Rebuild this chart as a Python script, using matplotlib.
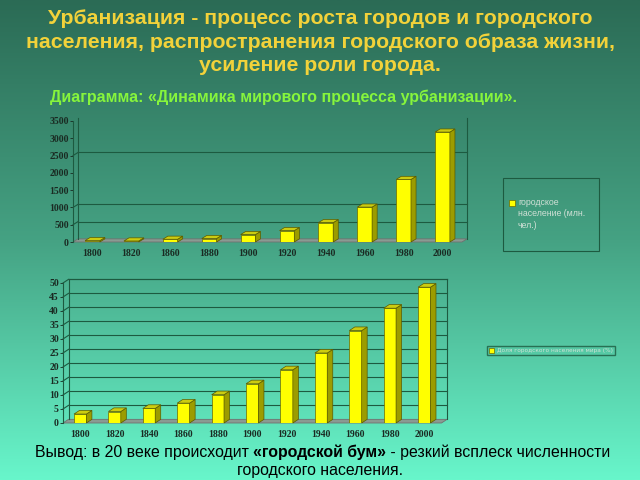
import numpy as np
import matplotlib.pyplot as plt
from matplotlib.patches import Polygon, Rectangle
from matplotlib.colors import LinearSegmentedColormap

# данные
years_top = ['1800', '1820', '1860', '1880', '1900', '1920', '1940', '1960', '1980', '2000']
urban_pop = [40, 30, 80, 100, 215, 330, 560, 1010, 1810, 3180]
top_ticks = [0, 500, 1000, 1500, 2000, 2500, 3000, 3500]
top_grid = [500, 1000, 2500]
top_label = 'городское\nнаселение (млн.\nчел.)'

years_bottom = ['1800', '1820', '1840', '1860', '1880', '1900', '1920', '1940', '1960', '1980', '2000']
urban_share = [3.2, 4.1, 5.2, 7.1, 10.1, 14, 19, 25, 33, 41, 48.5]
bottom_ticks = [0, 5, 10, 15, 20, 25, 30, 35, 40, 45, 50]
bottom_grid = [5, 10, 15, 20, 25, 30, 35, 40, 45, 50]
bottom_label = 'Доля городского населения мира (%)'

title = ('Урбанизация - процесс роста городов и городского\n'
         'населения, распространения городского образа жизни,\n'
         'усиление роли города.')
subtitle = 'Диаграмма: «Динамика мирового процесса урбанизации».'

W, H = 640, 480
fig = plt.figure(figsize=(6.4, 4.8), dpi=100)

# фон - градиент
bg = fig.add_axes([0, 0, 1, 1], zorder=-10)
cmap = LinearSegmentedColormap.from_list('bg', ['#2b6b55', '#45a283', '#68f6cb'])
bg.imshow(np.linspace(0, 1, 256).reshape(-1, 1), aspect='auto', cmap=cmap, extent=[0, 1, 0, 1])
bg.axis('off')

grid_c = '#1d5a40'
leg_c = '#d0e0d6'
tick_font = dict(family='Liberation Serif', weight='bold', size=7, color='#1a2a22')


def chart(rect, cats, vals, ymax, ticks, grid, w, dx, dy, top_line):
    ax = fig.add_axes(rect)
    ax.patch.set_alpha(0)
    n = len(cats)
    x = np.arange(n)
    xr = n - 0.5
    ax.set_xlim(-0.5, xr + dx)
    ax.set_ylim(0, ymax)
    for s in ['top', 'right', 'bottom']:
        ax.spines[s].set_visible(False)
    ax.spines['left'].set_color(grid_c)
    ax.spines['left'].set_linewidth(0.8)
    ax.set_yticks(ticks)
    ax.set_yticklabels([str(t) for t in ticks], fontdict=tick_font)
    ax.tick_params(axis='y', length=2, width=0.6, color='#1a2a22', pad=1)
    ax.set_xticks(x)
    ax.set_xticklabels(cats, fontdict=tick_font)
    ax.tick_params(axis='x', length=0, pad=5)

    # пол и стенки
    ax.add_patch(Polygon([(-0.5, 0), (xr, 0), (xr + dx, dy), (-0.5 + dx, dy)],
                         closed=True, fc='#8a9a92', ec='#707070', lw=0.6, clip_on=False))
    ax.plot([-0.5 + dx, -0.5 + dx], [dy, ymax + dy], color=grid_c, lw=0.8, clip_on=False)
    ax.plot([xr + dx, xr + dx], [dy, ymax + dy], color=grid_c, lw=0.8, clip_on=False)
    for g in grid:
        ax.plot([-0.5, -0.5 + dx], [g, g + dy], color=grid_c, lw=0.8, clip_on=False)
        ax.plot([-0.5 + dx, xr + dx], [g + dy, g + dy], color=grid_c, lw=0.8, clip_on=False)
    if top_line:
        ax.plot([-0.5 + dx, xr + dx], [ymax + dy, ymax + dy], color=grid_c, lw=0.8, clip_on=False)

    # бары
    bars = ax.bar(x, vals, width=w, color='#ffff00', edgecolor='#6a6a00', lw=0.5, zorder=3)
    for xi, v in zip(x, vals):
        l, r = xi - w / 2, xi + w / 2
        ax.add_patch(Polygon([(r, 0), (r + dx, dy), (r + dx, v + dy), (r, v)], closed=True,
                             fc='#9c9c00', ec='#5a5a00', lw=0.5, zorder=3, clip_on=False))
        ax.add_patch(Polygon([(l, v), (r, v), (r + dx, v + dy), (l + dx, v + dy)], closed=True,
                             fc='#cccc10', ec='#5a5a00', lw=0.5, zorder=3, clip_on=False))
    return ax, bars


ax1, b1 = chart([73 / W, 1 - 242 / H, (467 - 73) / W, 121 / H], years_top, urban_pop,
                3500, top_ticks, top_grid, 0.38, 0.13, 90, False)
ax2, b2 = chart([63 / W, 1 - 423 / H, (447 - 63) / W, 140 / H], years_bottom, urban_share,
                50, bottom_ticks, bottom_grid, 0.36, 0.16, 1.3, True)

# легенда верхней диаграммы (маркер у первой строки)
fig.add_artist(Rectangle((503 / W, 1 - 251 / H), 96 / W, 73 / H, transform=fig.transFigure,
                         fill=False, ec=grid_c, lw=0.8))
fig.add_artist(Rectangle((509 / W, 1 - 206 / H), 6 / W, 6 / H, transform=fig.transFigure,
                         fc='#ffff00', ec='#6a6a00', lw=0.5))
fig.text(518 / W, 1 - 198 / H, top_label, ha='left', va='top', fontsize=6.3, color=leg_c,
         family='Liberation Sans', linespacing=1.35)

fig.legend([b2], [bottom_label], loc='center left', bbox_to_anchor=(487 / W, 1 - 350.5 / H),
           frameon=True, fancybox=False, edgecolor=grid_c, facecolor='none', fontsize=4.15,
           labelcolor=leg_c, handlelength=0.9, handleheight=0.9, handletextpad=0.4,
           borderpad=0.4, borderaxespad=0)

# тексты
fig.text(0.5, 1 - 42 / H, title, ha='center', va='center', fontsize=15.3, weight='bold',
         color='#f2d23a', family='Liberation Sans', linespacing=1.33)
fig.text(50 / W, 1 - 97 / H, subtitle, ha='left', va='center', fontsize=11.5, weight='bold',
         color='#86f53c', family='Liberation Sans')

t1 = fig.text(35 / W, 1 - 452 / H, 'Вывод: в 20 веке происходит ', ha='left', va='center',
              fontsize=11.4, color='black', family='Liberation Sans')
fig.canvas.draw()
bb = t1.get_window_extent()
t2 = fig.text(bb.x1 / W, 1 - 452 / H, '«городской бум»', ha='left', va='center',
              fontsize=11.4, color='black', family='Liberation Sans', weight='bold')
fig.canvas.draw()
bb = t2.get_window_extent()
fig.text(bb.x1 / W, 1 - 452 / H, ' - резкий всплеск численности', ha='left', va='center',
         fontsize=11.4, color='black', family='Liberation Sans')
fig.text(0.5, 1 - 470 / H, 'городского населения.', ha='center', va='center',
         fontsize=11.4, color='black', family='Liberation Sans')

fig.savefig('out.png', dpi=100)
